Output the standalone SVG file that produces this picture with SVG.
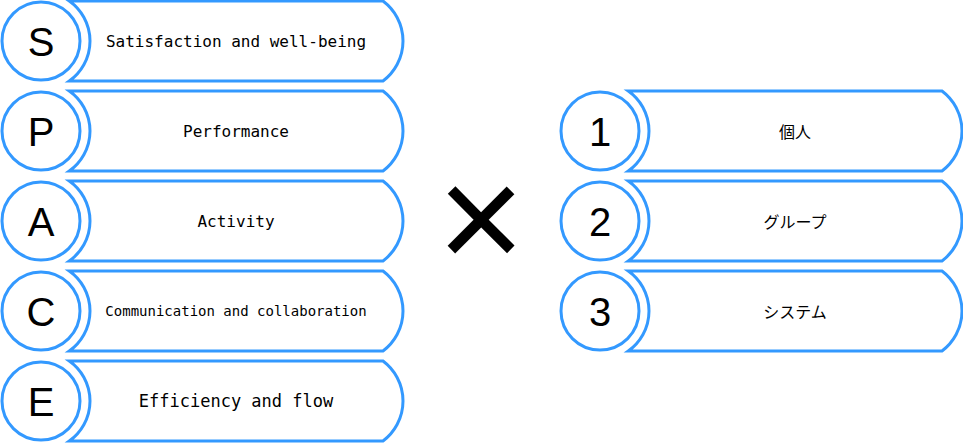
<svg xmlns="http://www.w3.org/2000/svg" xmlns:xlink="http://www.w3.org/1999/xlink" width="963" height="443" viewBox="0 0 963 443">
<style>
.shape{fill:#ffffff;stroke:#3399ff;stroke-width:3}
.big{font-family:"Liberation Sans",Arial,sans-serif;font-size:40px;fill:#000;text-anchor:middle}
.mono{font-family:"DejaVu Sans Mono","Liberation Mono",monospace;font-size:16px;fill:#000;text-anchor:middle}
.jp{font-family:"Liberation Sans","Noto Sans CJK JP",sans-serif;font-size:16px;fill:#000;text-anchor:middle}
.times{font-family:"Liberation Sans",Arial,sans-serif;font-size:150px;fill:#000;text-anchor:middle}
</style>
<defs>
<path id="banner" d="M 69.3 -40 L 383 -40 A 50 50 0 0 1 383 40 L 69.3 40 A 49 49 0 0 0 69.3 -40 Z"/>
</defs>
<g id="row-S" transform="translate(0,41)">
<use xlink:href="#banner" href="#banner" class="shape"/>
<circle class="shape" cx="41" cy="0" r="39"/>
<text class="big" x="41" y="14.5">S</text>
<text class="mono" x="236" y="5.5">Satisfaction and well-being</text>
</g>
<g id="row-P" transform="translate(0,131)">
<use xlink:href="#banner" href="#banner" class="shape"/>
<circle class="shape" cx="41" cy="0" r="39"/>
<text class="big" x="41" y="14.5">P</text>
<text class="mono" x="236" y="5.5">Performance</text>
</g>
<g id="row-A" transform="translate(0,221)">
<use xlink:href="#banner" href="#banner" class="shape"/>
<circle class="shape" cx="41" cy="0" r="39"/>
<text class="big" x="41" y="14.5">A</text>
<text class="mono" x="236" y="5.5">Activity</text>
</g>
<g id="row-C" transform="translate(0,311)">
<use xlink:href="#banner" href="#banner" class="shape"/>
<circle class="shape" cx="41" cy="0" r="39"/>
<text class="big" x="41" y="14.5">C</text>
<text class="mono" x="236" y="5" style="font-size:14px">Communication and collaboration</text>
</g>
<g id="row-E" transform="translate(0,401)">
<use xlink:href="#banner" href="#banner" class="shape"/>
<circle class="shape" cx="41" cy="0" r="39"/>
<text class="big" x="41" y="14.5">E</text>
<text class="mono" x="236" y="6" style="font-size:17px">Efficiency and flow</text>
</g>
<g id="times">
<text class="times" x="481" y="270">×</text>
</g>
<g id="row-1" transform="translate(559,131)">
<use xlink:href="#banner" href="#banner" class="shape"/>
<circle class="shape" cx="41" cy="0" r="39"/>
<text class="big" x="41" y="14.5">1</text>
<text class="jp" x="236" y="7">個人</text>
</g>
<g id="row-2" transform="translate(559,221)">
<use xlink:href="#banner" href="#banner" class="shape"/>
<circle class="shape" cx="41" cy="0" r="39"/>
<text class="big" x="41" y="14.5">2</text>
<text class="jp" x="236" y="7">グループ</text>
</g>
<g id="row-3" transform="translate(559,311)">
<use xlink:href="#banner" href="#banner" class="shape"/>
<circle class="shape" cx="41" cy="0" r="39"/>
<text class="big" x="41" y="14.5">3</text>
<text class="jp" x="236" y="7">システム</text>
</g>
</svg>
